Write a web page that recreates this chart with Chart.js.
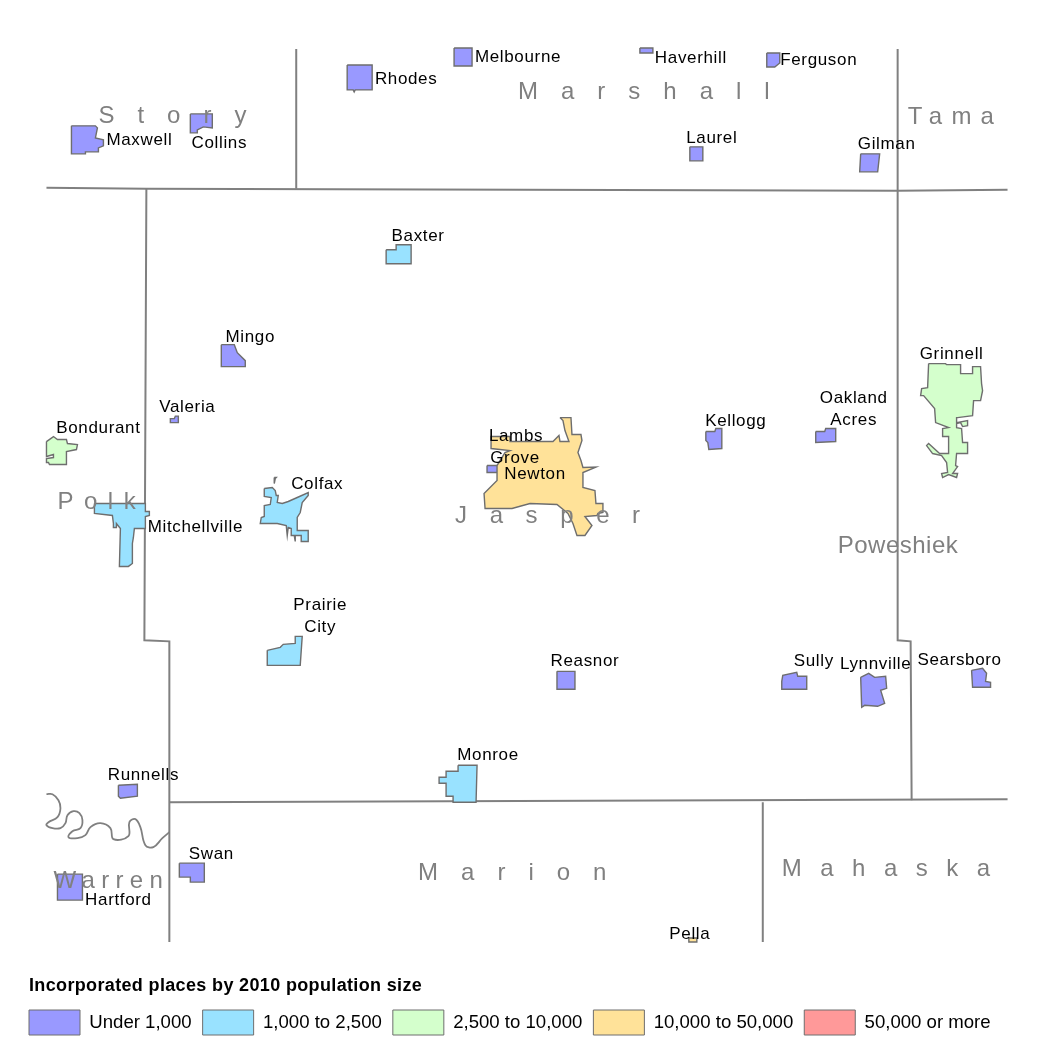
<!DOCTYPE html>
<html><head><meta charset="utf-8">
<style>html,body{margin:0;padding:0;background:#fff}canvas{display:block}</style>
<script src="https://cdn.jsdelivr.net/npm/chart.js@4"></script>
</head><body><canvas id="c" width="1050" height="1050"></canvas>
<script>
const classNames = ["Under 1,000","1,000 to 2,500","2,500 to 10,000","10,000 to 50,000","50,000 or more"];
const classColors = ["#9999ff","#99e2ff","#d4ffcc","#ffe299","#ff9999"];
const legendTitle = "Incorporated places by 2010 population size";

const countyLines = [
 [[296,48],[296,188]],
 [[898,48],[898,190]],
 [[46,187],[146,188],[898,190],[1008,189]],
 [[146,188],[144,640],[169,641],[169,802],[169,942]],
 [[898,190],[898,640],[911,641],[912,800]],
 [[169,802],[1008,799]],
 [[763,802],[763,942]]
];
const river = [[46,794],[52,794],[58,800],[60,808],[57,817],[48,822],[46,825],[52,828],[60,828],[65,823],[67,815],[73,811],[79,813],[82,820],[80,828],[72,831],[68,837],[77,838],[85,835],[90,827],[100,823],[110,828],[113,839],[128,836],[129,822],[135,819],[140,827],[145,845],[153,847],[162,838],[169,832]];

const placeNames = ["Maxwell","Collins","Rhodes","Melbourne","Haverhill","Ferguson","Laurel","Gilman","Baxter","Mingo","Valeria","Bondurant","Mitchellville","Colfax","Colfax fragment","Newton","Lambs Grove","Grinnell","Kellogg","Oakland Acres","Prairie City","Reasnor","Sully","Lynnville","Searsboro","Monroe","Runnells","Swan","Hartford","Pella"];
const placeClasses = [0,0,0,0,0,0,0,0,1,0,0,2,1,1,1,3,0,2,0,0,1,0,0,0,0,1,0,0,0,3];
const placeShapes = [
 [[71,125],[95,125],[97,127],[95,137],[103,139],[103,145],[98,147],[98,151],[85,151],[85,153],[71,153]],
 [[190,113],[212,113],[212,127],[203,126],[197,129],[197,132],[190,132]],
 [[347,64],[372,64],[372,89],[355,89],[354,91],[353,89],[347,89]],
 [[454,47],[472,47],[472,65],[454,65]],
 [[640,47],[653,47],[653,52],[640,52]],
 [[767,52],[780,52],[780,62],[775,66],[767,66]],
 [[690,146],[703,146],[703,160],[690,160]],
 [[861,153],[880,153],[878,171],[860,171]],
 [[386,249],[396,249],[396,244],[411,244],[411,263],[386,263]],
 [[221,344],[234,344],[237,352],[245,360],[245,366],[221,366]],
 [[170,421],[170,418],[174,418],[175,415.5],[178,415.5],[178,422],[170,422]],
 [[46,441],[53,436],[57,439],[66,439],[67,443],[77,444],[76,449],[66,451],[66,464],[49,464],[48,462],[46,462],[46,458],[53,457],[53,454],[46,456]],
 [[94,503],[145,503],[145,511],[149,511],[149,515],[145,516],[145,528],[134,528],[133,537],[132,543],[132,563],[128,566],[119,566],[120,528],[116,523],[116,527],[113,527],[113,523],[112,515],[94,513]],
 [[264,488],[272,487],[275,490],[276,495],[278,495],[277,502],[282,503],[288,501],[297,497],[308,492],[308,495],[302,502],[300,512],[297,517],[297,530],[308,530],[308,541],[301,541],[301,535],[295,535],[295,541],[294,535],[291,535],[291,528],[288,527],[287,535],[286,525],[277,523],[260,523],[261,517],[264,516],[264,505],[270,504],[271,497],[264,496]],
 [[274,477],[276,477],[275,478],[274,483]],
 [[560,417],[571,417],[572,434],[581,434],[582,440],[578,452],[581,460],[583,467],[596,466.5],[583,472],[583,487],[595,490],[596,503],[603,503],[603,512],[598,513],[597,515],[585,516],[592,525],[585,535],[577,535],[573,523],[568,513],[557,504],[530,503],[512,508],[503,508],[485,508],[484,493],[497,480],[497,465],[505,452],[510,450],[491,448],[491,436],[510,436],[510,441],[553,441],[559,435],[560,441],[569,441],[565,430],[563,420]],
 [[487,465],[498,465],[498,472],[487,472]],
 [[929,363],[946,363],[947,364],[961,364],[961,373],[973,373],[973,366],[981,366],[982,383],[983,390],[981,400],[974,400],[973,415],[958,417],[957,417],[957,422],[968,420],[968,425],[963,426],[961,422],[957,423],[957,427],[962,428],[963,442],[968,442],[968,453],[957,453],[956,465],[958,466],[953,473],[958,473],[957,477],[949,474],[943,477],[942,473],[948,472],[947,462],[942,455],[933,453],[927,445],[929,443],[940,453],[949,453],[949,436],[943,436],[943,428],[949,427],[936,422],[935,408],[924,395],[921,395],[922,388],[928,387]],
 [[706,431],[715,431],[716,428],[722,428],[722,448],[709,449],[708,442],[706,440]],
 [[816,431],[825,431],[826,428],[836,428],[836,441],[816,442]],
 [[267,650],[280,647],[283,644],[295,643],[295,636],[302,636],[300,665],[267,665]],
 [[557,671],[575,671],[575,689],[557,689]],
 [[782,681],[783,675],[797,672],[798,676],[807,676],[807,689],[782,689]],
 [[861,677],[869,673],[875,677],[886,676],[887,688],[881,690],[885,703],[878,706],[865,705],[862,707]],
 [[972,670],[983,668],[987,673],[986,681],[991,682],[991,687],[973,687]],
 [[458,765],[477,765],[476,802],[453,802],[453,796],[446,796],[446,783],[439,783],[439,777],[446,777],[446,771],[458,771]],
 [[118,785],[137,784],[137,796],[120,798],[118,796]],
 [[179,863],[204,863],[204,882],[190,882],[190,877],[179,877]],
 [[57,874],[82,874],[82,900],[57,900]],
 [[689,938],[697,938],[697,942],[689,942]]
];

const placeLabels = ["Rhodes","Melbourne","Haverhill","Ferguson","Maxwell","Collins","Laurel","Gilman","Baxter","Mingo","Grinnell","Oakland","Acres","Valeria","Kellogg","Bondurant","Lambs","Grove","Newton","Colfax","Mitchellville","Prairie","City","Reasnor","Sully","Lynnville","Searsboro","Monroe","Runnells","Swan","Hartford","Pella"];
const placeLabelAt = [[406,78],[518,56],[691,57],[819,59],[139,139],[219,142],[712,137],[887,143],[418,235],[250,336],[952,353],[854,397],[854,419],[187,406],[736,420],[98,427],[516,435],[515,457],[535,473],[317,483],[195,526],[320,605],[320,627],[585,661],[814,661],[876,664],[960,660],[488,755],[143,775],[211,854],[118,900],[690,934]];

const countyLabels = ["Story","Marshall","Tama","Polk","Jasper","Poweshiek","Marion","Mahaska","Warren"];
const countyLabelAt = [[98,115],[518,91],[908,116],[57,501],[455,515],[838,546],[418,873],[782,869],[53,881]];
const countySpacing = [23,23,9.2,10.5,22.6,0.5,23,18.5,6.3];

const GRAY = "#808080", OUTLINE = "#6e6e6e";
const toPts = a => a.map(p => ({x:p[0], y:p[1]}));
const datasets = [];
placeShapes.forEach((s,i) => datasets.push({
  label: placeNames[i],
  data: toPts(s.concat([s[0]])),
  showLine:true, fill:'shape', backgroundColor: classColors[placeClasses[i]],
  borderColor: OUTLINE, borderWidth:1.4, pointRadius:0, tension:0, clip:false, order:1
}));
countyLines.forEach((s,i) => datasets.push({
  label:"County line "+(i+1), data:toPts(s), showLine:true, fill:false,
  borderColor:GRAY, borderWidth:2, pointRadius:0, tension:0, clip:false, order:2
}));
datasets.push({label:"River", data:toPts(river), showLine:true, fill:false,
  borderColor:GRAY, borderWidth:1.8, pointRadius:0, tension:0.4, clip:false, order:2});

const textPlugin = {
  id:'mapText',
  afterDraw(chart){
    const c = chart.ctx, X = chart.scales.x, Y = chart.scales.y;
    c.save();
    c.textBaseline = 'middle';
    c.fillStyle = '#000'; c.textAlign = 'center';
    c.font = '17px "Liberation Sans"'; c.letterSpacing = '0.65px';
    placeLabels.forEach((t,i)=>c.fillText(t, X.getPixelForValue(placeLabelAt[i][0]), Y.getPixelForValue(placeLabelAt[i][1])+0.4));
    c.textAlign = 'left'; c.fillStyle = GRAY; c.font = '24px "Liberation Sans"';
    countyLabels.forEach((t,i)=>{ c.letterSpacing = countySpacing[i]+'px';
      c.fillText(t, X.getPixelForValue(countyLabelAt[i][0]), Y.getPixelForValue(countyLabelAt[i][1])+0.4); });
    c.fillStyle = '#000'; c.font = 'bold 18px "Liberation Sans"'; c.letterSpacing = '0.35px';
    c.fillText(legendTitle, 29, 986);
    c.restore();
  }
};

const chart = new Chart(document.getElementById('c'), {
  type:'scatter',
  data:{datasets},
  options:{
    responsive:false, animation:false, devicePixelRatio:1,
    layout:{padding:{left:18,right:0,top:0,bottom:5}},
    scales:{
      x:{type:'linear',display:false,min:17.5,max:1049.5},
      y:{type:'linear',display:false,reverse:true,min:0,max:1000}
    },
    plugins:{
      tooltip:{enabled:false},
      legend:{
        display:true, position:'bottom', align:'start', onClick:null,
        labels:{
          boxWidth:51, boxHeight:25, padding:11,
          color:'#000', font:{family:'"Liberation Sans"', size:18.6},
          generateLabels:()=>classNames.map((t,i)=>({text:t, fillStyle:classColors[i], strokeStyle:OUTLINE, lineWidth:1, hidden:false, datasetIndex:i}))
        }
      }
    }
  },
  plugins:[textPlugin]
});
chart.options.scales.y.max = chart.chartArea.bottom;
chart.update('none');
</script></body></html>
